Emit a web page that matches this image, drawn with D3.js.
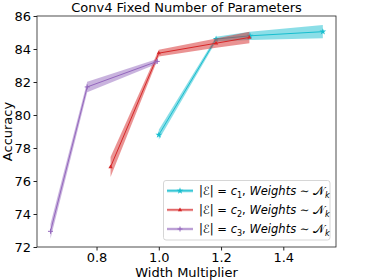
<!DOCTYPE html>
<html>
<head>
<meta charset="utf-8">
<script src="https://cdn.jsdelivr.net/npm/d3@7"></script>
<style>
  body { margin: 0; background: #fff; }
  svg { font-family: "DejaVu Sans", sans-serif; }
</style>
</head>
<body>
<div id="chart"></div>
<script>
// ---- data ----
const c1Width = [1.0, 1.184, 1.293, 1.527];
const c1Mean  = [78.8, 84.6, 84.8, 85.05];
const c1Err   = [0.3, 0.15, 0.25, 0.4];

const c2Width = [0.845, 1.0, 1.184, 1.291];
const c2Mean  = [76.85, 83.75, 84.35, 84.7];
const c2Err   = [0.6, 0.2, 0.28, 0.35];

const c3Width = [0.652, 0.77, 0.995];
const c3Mean  = [72.95, 81.7, 83.25];
const c3Err   = [0.45, 0.32, 0.15];

const xTicks = [0.8, 1.0, 1.2, 1.4];
const yTicks = [72, 74, 76, 78, 80, 82, 84, 86];

const seriesInfo = [
  { name: "c1", sub: "1", color: "#17becf", marker: "star", w: c1Width, m: c1Mean, e: c1Err },
  { name: "c2", sub: "2", color: "#d62728", marker: "tri", w: c2Width, m: c2Mean, e: c2Err },
  { name: "c3", sub: "3", color: "#9467bd", marker: "plus", w: c3Width, m: c3Mean, e: c3Err },
];

// ---- layout ----
const width = 374, height = 280;
const plot = { left: 37, right: 336, top: 16, bottom: 247 };

const svg = d3.select("#chart").append("svg")
  .attr("width", width).attr("height", height);

const x = d3.scaleLinear().domain([0.6087, 1.5693]).range([plot.left, plot.right]);
const y = d3.scaleLinear().domain([72, 86]).range([plot.bottom, plot.top]);

// bands + lines
seriesInfo.forEach(s => {
  const pts = s.w.map((w, i) => ({ x: w, y: s.m[i], e: s.e[i] }));
  const area = d3.area().x(d => x(d.x)).y0(d => y(d.y - d.e)).y1(d => y(d.y + d.e));
  svg.append("path").datum(pts).attr("d", area)
    .attr("fill", s.color).attr("fill-opacity", 0.5).attr("stroke", "none");
  const line = d3.line().x(d => x(d.x)).y(d => y(d.y));
  svg.append("path").datum(pts).attr("d", line)
    .attr("fill", "none").attr("stroke", s.color).attr("stroke-width", 1);
  pts.forEach(p => drawMarker(svg, s.marker, x(p.x), y(p.y), s.color));
});

function drawMarker(g, type, cx, cy, color) {
  if (type === "star") {
    g.append("path").attr("d", d3.symbol(d3.symbolStar, 14)())
      .attr("transform", `translate(${cx},${cy})`).attr("fill", color);
  } else if (type === "tri") {
    g.append("path").attr("d", d3.symbol(d3.symbolTriangle, 8)())
      .attr("transform", `translate(${cx},${cy})`).attr("fill", color);
  } else {
    g.append("path").attr("d", `M${cx - 2.5},${cy}H${cx + 2.5}M${cx},${cy - 2.5}V${cy + 2.5}`)
      .attr("stroke", color).attr("stroke-width", 1);
  }
}

// frame
svg.append("rect")
  .attr("x", plot.left).attr("y", plot.top)
  .attr("width", plot.right - plot.left).attr("height", plot.bottom - plot.top)
  .attr("fill", "none").attr("stroke", "#222").attr("stroke-width", 0.8);

// axes
const xAxis = svg.append("g").attr("transform", `translate(0,${plot.bottom})`)
  .call(d3.axisBottom(x).tickValues(xTicks).tickFormat(d3.format(".1f")).tickSize(3.5).tickPadding(2.5));
const yAxis = svg.append("g").attr("transform", `translate(${plot.left},0)`)
  .call(d3.axisLeft(y).tickValues(yTicks).tickSize(3.5).tickPadding(2.5));
[xAxis, yAxis].forEach(a => {
  a.select(".domain").remove();
  a.selectAll("text").attr("font-size", 13).attr("fill", "#000").attr("font-family", "DejaVu Sans");
  a.selectAll("line").attr("stroke", "#222");
});

// title & labels
svg.append("text").attr("x", (plot.left + plot.right) / 2).attr("y", 12)
  .attr("text-anchor", "middle").attr("font-size", 13).text("Conv4 Fixed Number of Parameters");
svg.append("text").attr("x", (plot.left + plot.right) / 2).attr("y", 277)
  .attr("text-anchor", "middle").attr("font-size", 13).text("Width Multiplier");
svg.append("text").attr("transform", `translate(12,${(plot.top + plot.bottom) / 2}) rotate(-90)`)
  .attr("text-anchor", "middle").attr("font-size", 13).text("Accuracy");

// legend
const leg = svg.append("g");
leg.append("rect").attr("x", 163.5).attr("y", 180.5).attr("width", 166.5).attr("height", 59.5)
  .attr("rx", 2.5).attr("fill", "#fff").attr("fill-opacity", 0.8)
  .attr("stroke", "#ccc").attr("stroke-width", 0.8);
seriesInfo.forEach((s, i) => {
  const ly = 190.8 + i * 19.1;
  leg.append("line").attr("x1", 167).attr("x2", 193).attr("y1", ly).attr("y2", ly)
    .attr("stroke", s.color).attr("stroke-width", 1);
  leg.append("rect").attr("x", 167).attr("y", ly - 1.5).attr("width", 26).attr("height", 3)
    .attr("fill", s.color).attr("fill-opacity", i === 0 ? 0.5 : 0.25);
  drawMarker(leg, s.marker, 180, ly, s.color);
  const t = leg.append("text").attr("x", 199).attr("y", ly + 4.3).attr("font-size", 11.5);
  t.append("tspan").text("|ℰ| = ");
  t.append("tspan").attr("font-style", "italic").text("c");
  t.append("tspan").attr("font-size", 8).attr("dy", 2.5).text(s.sub);
  t.append("tspan").attr("dy", -2.5).text(", ");
  t.append("tspan").attr("font-style", "italic").text("Weights");
  t.append("tspan").text(" ∼ 𝒩");
  t.append("tspan").attr("font-size", 8).attr("font-style", "italic").attr("dy", 2.5).text("k");
});
</script>
</body>
</html>
